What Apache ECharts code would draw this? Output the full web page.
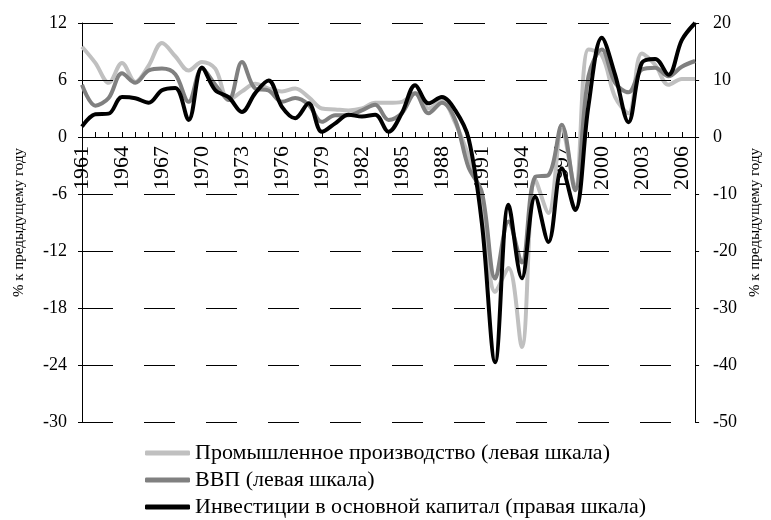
<!DOCTYPE html>
<html><head><meta charset="utf-8">
<script src="https://cdn.jsdelivr.net/npm/echarts@6/dist/echarts.min.js"></script>
<style>html,body{margin:0;padding:0;background:#fff}#c{width:771px;height:520px}</style>
</head><body><div id="c"></div>
<script>
const years = [];
for (let y = 1961; y <= 2007; y++) years.push(String(y));

const industry = [9.5,7.8,5.7,7.8,5.8,7.5,9.9,8.5,7.0,7.9,7.2,3.9,4.8,5.6,5.1,4.8,5.1,4.2,3.0,2.9,2.8,3.0,3.6,3.6,3.7,4.6,3.0,3.8,1.5,-2.0,-6.6,-16.3,-13.8,-22.1,-4.5,-8.0,0.8,-5.3,9.2,8.6,4.2,2.5,8.8,7.6,5.5,6.1,6.1];
const gdp = [5.5,3.3,4.1,6.7,5.7,7.0,7.2,6.6,3.7,7.2,5.5,3.9,7.9,5.1,4.9,3.7,4.1,3.4,1.6,2.3,2.3,2.8,3.4,1.8,2.5,4.6,2.5,3.6,1.8,-3.2,-5.8,-14.9,-8.9,-13.2,-4.2,-4.0,1.3,-5.6,6.4,9.2,5.7,4.7,7.1,7.3,6.4,7.4,8.0];
const investment = [1.8,4.0,4.1,7.0,6.8,6.0,8.2,8.6,3.0,12.2,8.2,7.0,4.4,7.7,9.9,5.3,3.3,5.9,0.9,2.4,3.9,3.6,3.9,0.9,4.2,9.1,5.9,7.0,4.7,-0.2,-15.1,-39.5,-11.9,-24.8,-10.5,-18.4,-5.5,-12.8,5.5,17.4,10.9,2.6,13.0,13.7,10.9,17.0,20.0];

// left-scale gridline values (0 is the x axis line itself)
const gridValues = [12, 6, -6, -12, -18, -24, -30];

const seriesNames = ['Промышленное производство (левая шкала)','ВВП (левая шкала)','Инвестиции в основной капитал (правая шкала)'];
const seriesColors = ['#c0c0c0','#808080','#000000'];
const axisName = '% к предыдущему году';

const FONT = '"Liberation Serif","Times New Roman",serif';
const GRID_TOP = 23, GRID_BOTTOM = 98, H = 520;
const plotH = H - GRID_TOP - GRID_BOTTOM;
const zeroY = GRID_TOP + plotH * (12 / 42);
const xOffset = -((H - GRID_BOTTOM) - zeroY);

const legendTops = [437, 464, 491];
const chart = echarts.init(document.getElementById('c'), null, {renderer:'canvas'});
chart.setOption({
  animation:false,
  textStyle:{fontFamily:FONT,color:'#000'},
  grid:{left:82,right:73,top:GRID_TOP,bottom:GRID_BOTTOM,containLabel:false},
  legend: seriesNames.map((n,i)=>({
    orient:'vertical', left:140, top:legendTops[i],
    itemWidth:45, itemHeight:5, icon:'roundRect',
    textStyle:{fontFamily:FONT,fontSize:22,color:'#000'},
    data:[n]
  })),
  xAxis:{
    type:'category', data:years, boundaryGap:false, position:'bottom', offset:xOffset,
    axisLine:{onZero:false,lineStyle:{color:'#000',width:1}},
    axisTick:{show:true,inside:true,length:5,interval:0,lineStyle:{color:'#000'}},
    axisLabel:{interval:2,rotate:90,fontSize:22,color:'#000',fontFamily:FONT,margin:9},
    splitLine:{show:false}
  },
  yAxis:[{
    type:'value', min:-30, max:12, interval:6, position:'left',
    name:axisName, nameLocation:'middle', nameRotate:90, nameGap:55,
    nameTextStyle:{fontFamily:FONT,fontSize:15,color:'#000'},
    axisLine:{show:true,onZero:false,lineStyle:{color:'#000'}},
    axisTick:{show:true,length:4,lineStyle:{color:'#000'}},
    axisLabel:{fontSize:18,color:'#000',fontFamily:FONT,margin:15},
    splitLine:{show:false}
  },{
    type:'value', min:-50, max:20, interval:10, position:'right',
    name:axisName, nameLocation:'middle', nameRotate:90, nameGap:52,
    nameTextStyle:{fontFamily:FONT,fontSize:15,color:'#000'},
    axisLine:{show:true,onZero:false,lineStyle:{color:'#000'}},
    axisTick:{show:true,length:4,lineStyle:{color:'#000'}},
    axisLabel:{fontSize:18,color:'#000',fontFamily:FONT,margin:18},
    splitLine:{show:false}
  }],
  series:[
    {name:seriesNames[0],type:'line',yAxisIndex:0,data:industry,smooth:0.35,symbol:'none',
     lineStyle:{color:seriesColors[0],width:4},itemStyle:{color:seriesColors[0]},
     markLine:{silent:true,symbol:['none','none'],label:{show:false},
       lineStyle:{color:'#000',width:1},
       data:gridValues.map(v=>({yAxis:v,lineStyle:{color:'#000',width:1,type:31}}))}},
    {name:seriesNames[1],type:'line',yAxisIndex:0,data:gdp,smooth:0.35,symbol:'none',
     lineStyle:{color:seriesColors[1],width:4},itemStyle:{color:seriesColors[1]}},
    {name:seriesNames[2],type:'line',yAxisIndex:1,data:investment,smooth:0.35,symbol:'none',
     lineStyle:{color:seriesColors[2],width:4},itemStyle:{color:seriesColors[2]}}
  ]
});
</script></body></html>
